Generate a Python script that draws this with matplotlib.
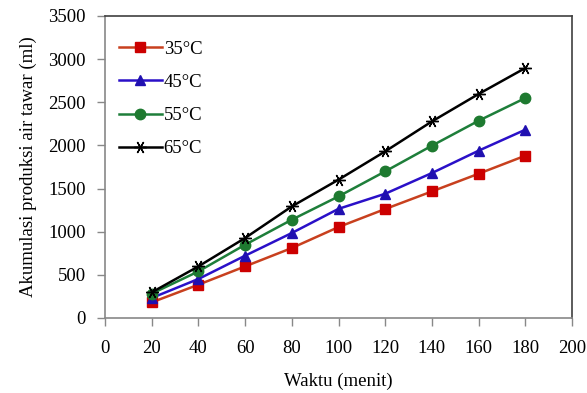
import matplotlib
matplotlib.use("Agg")
import matplotlib.pyplot as plt

waktu = [20, 40, 60, 80, 100, 120, 140, 160, 180]
t35 = [181, 386, 598, 811, 1054, 1263, 1467, 1672, 1881]
t45 = [232, 452, 722, 985, 1265, 1440, 1680, 1939, 2182]
t55 = [282, 540, 849, 1139, 1409, 1699, 1997, 2286, 2549]
t65 = [297, 598, 927, 1293, 1603, 1931, 2278, 2596, 2897]
labels = ["35°C", "45°C", "55°C", "65°C"]
xticks = [0, 20, 40, 60, 80, 100, 120, 140, 160, 180, 200]
yticks = [0, 500, 1000, 1500, 2000, 2500, 3000, 3500]

plt.rcParams['font.family'] = ['Liberation Serif', 'DejaVu Serif']

fig = plt.figure(figsize=(5.87, 3.93), dpi=100)
ax = fig.add_axes([105/587, 75/393, 467/587, 302/393])

series = [t35, t45, t55, t65]
lcolors = ["#C8401E", "#2A10C8", "#1E7E3A", "#000000"]
mcolors = ["#CC0000", "#2010B0", "#1E7A30", "#000000"]
markers = ["s", "^", "o", (6, 2, 90)]
msizes = [7, 7.5, 7.5, 9]
for s, lc, mc, m, ms, lab in zip(series, lcolors, mcolors, markers, msizes, labels):
    ax.plot(waktu, s, color=lc, lw=1.8, marker=m, markersize=ms,
            markerfacecolor=mc, markeredgecolor=mc, markeredgewidth=1.0, label=lab)

ax.set_xlim(0, 200)
ax.set_ylim(0, 3500)
ax.set_xticks(xticks)
ax.set_yticks(yticks)
ax.tick_params(axis='both', direction='out', length=6, width=1, color='#888888', labelsize=13.5)
ax.tick_params(axis='x', pad=10)
ax.tick_params(axis='y', pad=8)
for side in ['left', 'bottom']:
    ax.spines[side].set_color('#888888')
    ax.spines[side].set_linewidth(1.2)
for side in ['top', 'right']:
    ax.spines[side].set_color('#404040')
    ax.spines[side].set_linewidth(1.2)

ax.set_xlabel("Waktu (menit)", fontsize=13.5, labelpad=11)
ax.set_ylabel("Akumulasi produksi air tawar (ml)", fontsize=13.5, labelpad=8)

leg = ax.legend(loc='upper left', bbox_to_anchor=(0.005, 0.955), frameon=False,
                fontsize=13.5, handlelength=2.3, handletextpad=0.1,
                labelspacing=0.85, borderaxespad=0.2)

fig.savefig("out.png", dpi=100)
